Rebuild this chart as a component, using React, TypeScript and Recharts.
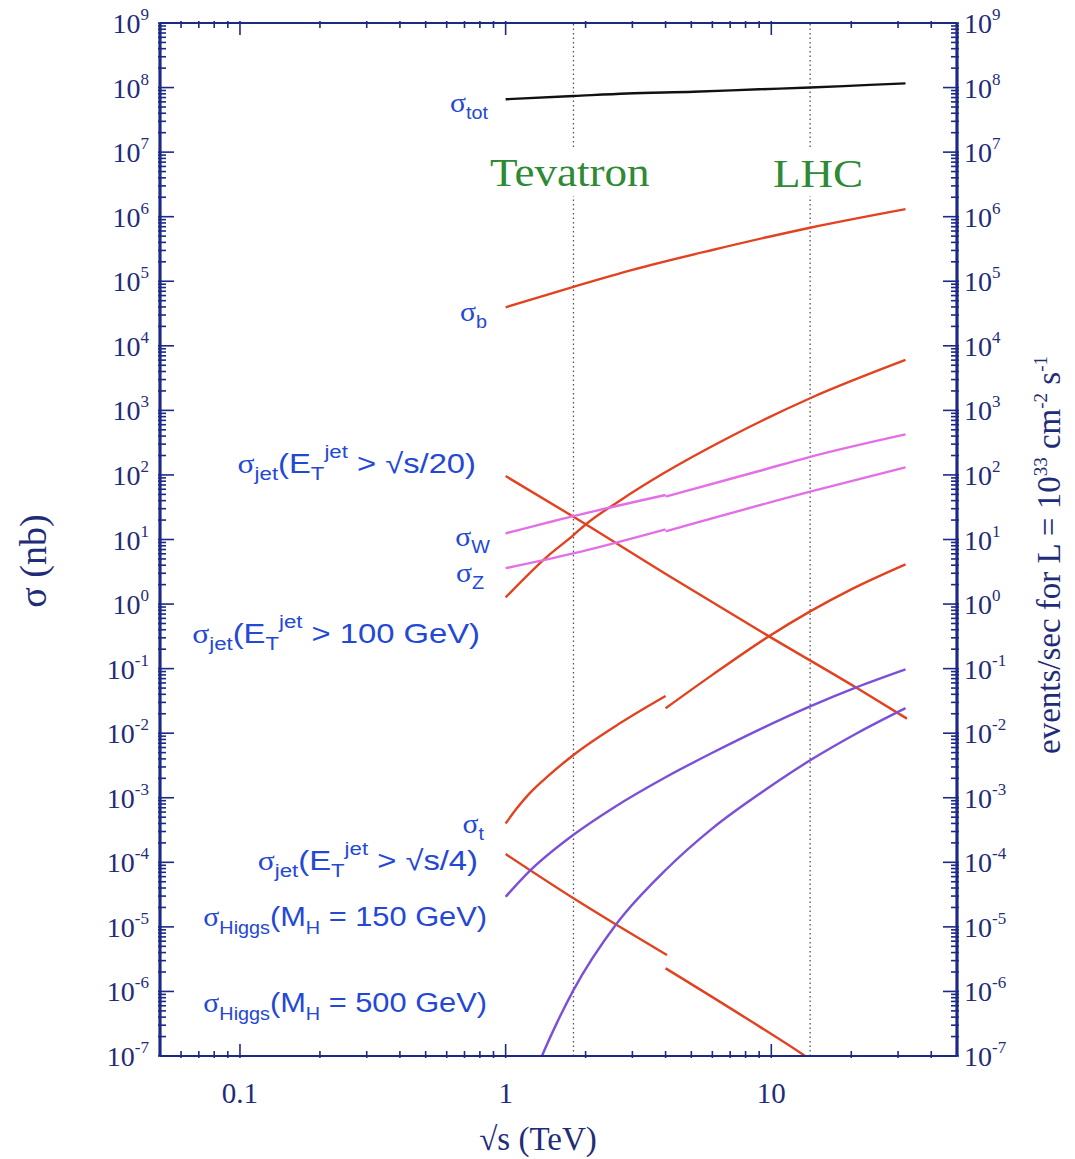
import { LineChart, Line, XAxis, YAxis, ReferenceLine } from 'recharts'

// sqrt(s) in TeV, sigma in nb
const sigmaTot = [
  { s: 1, v: 6.6e7 }, { s: 1.8, v: 7.4e7 }, { s: 2.86, v: 8.1e7 }, { s: 5.1, v: 8.6e7 },
  { s: 9, v: 9.4e7 }, { s: 14, v: 1.0e8 }, { s: 23.5, v: 1.1e8 }, { s: 32, v: 1.16e8 },
]
const sigmaB = [
  { s: 1, v: 3.95e4 }, { s: 1.8, v: 8.2e4 }, { s: 3, v: 1.5e5 }, { s: 6, v: 3.05e5 },
  { s: 14, v: 6.75e5 }, { s: 32, v: 1.31e6 },
]
const jet100 = [
  { s: 1, v: 1.27 }, { s: 1.43, v: 5.4 }, { s: 1.8, v: 11.7 }, { s: 1.99, v: 16.8 },
  { s: 2.69, v: 40 }, { s: 3.93, v: 106 }, { s: 7, v: 391 }, { s: 14, v: 1540 }, { s: 32, v: 6030 },
]
const jet20 = [
  { s: 1, v: 96 }, { s: 1.8, v: 22.5 }, { s: 4.05, v: 2.85 }, { s: 9.63, v: 0.33 },
  { s: 21, v: 0.05 }, { s: 32.4, v: 0.0168 },
]
const sigmaWppbar = [{ s: 1, v: 12.4 }, { s: 1.8, v: 23 }, { s: 4, v: 49 }]
const sigmaWpp = [{ s: 4, v: 46 }, { s: 9, v: 115 }, { s: 14, v: 191 }, { s: 32, v: 426 }]
const sigmaZppbar = [{ s: 1, v: 3.6 }, { s: 1.8, v: 6.1 }, { s: 4, v: 14.4 }]
const sigmaZpp = [{ s: 4, v: 13.4 }, { s: 14, v: 55 }, { s: 32, v: 131 }]
const sigmaTppbar = [
  { s: 1, v: 4.0e-4 }, { s: 1.1, v: 6.8e-4 }, { s: 1.23, v: 1.17e-3 }, { s: 1.45, v: 2.2e-3 },
  { s: 1.8, v: 4.6e-3 }, { s: 2.69, v: 0.0142 }, { s: 4, v: 0.0377 },
]
const sigmaTpp = [
  { s: 4, v: 0.0243 }, { s: 6, v: 0.08 }, { s: 9.6, v: 0.3 }, { s: 14, v: 0.77 }, { s: 20, v: 1.69 }, { s: 32, v: 4.12 },
]
const jet4ppbar = [{ s: 1, v: 1.34e-4 }, { s: 1.8, v: 2.77e-5 }, { s: 2.62, v: 1.07e-5 }, { s: 4.05, v: 3.66e-6 }]
const jet4pp = [{ s: 4, v: 2.28e-6 }, { s: 8, v: 3.9e-7 }, { s: 13.4, v: 1.0e-7 }, { s: 16, v: 6e-8 }]
const higgs150 = [
  { s: 1, v: 2.93e-5 }, { s: 1.23, v: 7.3e-5 }, { s: 1.8, v: 2.67e-4 }, { s: 2.53, v: 6.9e-4 }, { s: 4, v: 2.08e-3 },
  { s: 6, v: 4.97e-3 }, { s: 14, v: 0.026 }, { s: 21, v: 0.0516 }, { s: 32, v: 0.0973 },
]
const higgs500 = [
  { s: 1.3, v: 5.9e-8 }, { s: 1.37, v: 1e-7 }, { s: 1.556, v: 3.2e-7 }, { s: 1.8, v: 1.05e-6 }, { s: 2.62, v: 1.13e-5 },
  { s: 4, v: 7.6e-5 }, { s: 6, v: 3.36e-4 }, { s: 9.87, v: 1.48e-3 }, { s: 14, v: 3.8e-3 }, { s: 21, v: 1.0e-2 },
  { s: 32, v: 0.0245 },
]

const X_MAJOR = [0.1, 1, 10]
const X_MINOR = [0.06, 0.07, 0.08, 0.09, 0.2, 0.3, 0.4, 0.5, 0.6, 0.7, 0.8, 0.9, 2, 3, 4, 5, 6, 7, 8, 9, 20, 30, 40]
const Y_EXPS = [-7, -6, -5, -4, -3, -2, -1, 0, 1, 2, 3, 4, 5, 6, 7, 8, 9]
const Y_MULTS = [2, 3, 4, 5, 6, 7, 8, 9]
const TEVATRON = 1.8
const LHC = 14

const xTicks = [...X_MAJOR, ...X_MINOR].sort((a, b) => a - b)
const yTicks: number[] = []
Y_EXPS.forEach(e => {
  yTicks.push(Math.pow(10, e))
  if (e < 9) Y_MULTS.forEach(m => yTicks.push(m * Math.pow(10, e)))
})

const NAVY = '#1b2a86'
const TXT = '#1f2c78'
const BLUE = '#2448d6'
const RED = '#e2421f'
const MAGENTA = '#e46ee6'
const PURPLE = '#7b50d8'
const GREEN = '#2e8a34'
const SERIF = '"Liberation Serif", "Times New Roman", serif'
const SANS = '"Liberation Sans", Arial, sans-serif'

const isDecade = (v: number) => Math.abs(Math.log10(v) - Math.round(Math.log10(v))) < 1e-6

function BottomTick({ x, y, payload }: any) {
  const v = payload.value
  const major = isDecade(v)
  return (
    <g>
      <line x1={x} x2={x} y1={y} y2={y - (major ? 14 : 7)} stroke={NAVY} strokeWidth={1.6} />
      {major && (
        <text x={x} y={y + 45} textAnchor="middle" fill={TXT} fontFamily={SERIF} fontSize={29}>
          {String(v)}
        </text>
      )}
    </g>
  )
}

function TopTick({ x, y, payload }: any) {
  const major = isDecade(payload.value)
  return <line x1={x} x2={x} y1={y} y2={y + (major ? 14 : 7)} stroke={NAVY} strokeWidth={1.6} />
}

function YTick({ x, y, payload, side }: any) {
  const v = payload.value
  const major = isDecade(v)
  const dir = side === 'left' ? 1 : -1
  const exp = Math.round(Math.log10(v))
  return (
    <g>
      <line x1={x} x2={x + dir * (major ? 16 : 8)} y1={y} y2={y} stroke={NAVY} strokeWidth={1.6} />
      {major && (
        <text x={side === 'left' ? x - 9 : x + 5} y={y + 10} textAnchor={side === 'left' ? 'end' : 'start'}
          fill={TXT} fontFamily={SERIF} fontSize={28}>
          <tspan>10</tspan>
          <tspan dy={-13} fontSize={17}>{exp}</tspan>
        </text>
      )}
    </g>
  )
}

function CurveLabel({ x, y, sx = 1.1, children }: { x: number; y: number; sx?: number; children: React.ReactNode }) {
  return (
    <g transform={`translate(${x},${y}) scale(${sx},1)`}>
      <text x={0} y={0} textAnchor="end" fill={BLUE} fontFamily={SANS} fontSize={28}>{children}</text>
    </g>
  )
}

const Sig = () => <tspan fontFamily={SERIF} fontSize={27}>σ</tspan>

function JetLabel({ x, y, rest }: { x: number; y: number; rest: string }) {
  return (
    <CurveLabel x={x} y={y} sx={1.17}>
      <Sig />
      <tspan dy={7} fontSize={19}>jet</tspan>
      <tspan dy={-7}>(E</tspan>
      <tspan dy={7} fontSize={19}>T</tspan>
      <tspan dy={-22} fontSize={19}>jet</tspan>
      <tspan dy={15}>{rest}</tspan>
    </CurveLabel>
  )
}

function HiggsLabel({ x, y, rest }: { x: number; y: number; rest: string }) {
  return (
    <CurveLabel x={x} y={y}>
      <Sig />
      <tspan dy={8} fontSize={18}>Higgs</tspan>
      <tspan dy={-8}>(M</tspan>
      <tspan dy={8} fontSize={18}>H</tspan>
      <tspan dy={-8}>{rest}</tspan>
    </CurveLabel>
  )
}

function SimpleLabel({ x, y, sub }: { x: number; y: number; sub: string }) {
  return (
    <CurveLabel x={x} y={y}>
      <Sig />
      <tspan dy={7} fontSize={18}>{sub}</tspan>
    </CurveLabel>
  )
}

const series: { data: { s: number; v: number }[]; color: string }[] = [
  { data: sigmaTot, color: '#111111' },
  { data: sigmaB, color: RED },
  { data: jet100, color: RED },
  { data: jet20, color: RED },
  { data: sigmaWppbar, color: MAGENTA },
  { data: sigmaWpp, color: MAGENTA },
  { data: sigmaZppbar, color: MAGENTA },
  { data: sigmaZpp, color: MAGENTA },
  { data: sigmaTppbar, color: RED },
  { data: sigmaTpp, color: RED },
  { data: jet4ppbar, color: RED },
  { data: jet4pp, color: RED },
  { data: higgs150, color: PURPLE },
  { data: higgs500, color: PURPLE },
]

export default function App() {
  return (
    <div style={{ position: 'absolute', left: 0, top: 0, width: 1075, height: 1159, background: '#fff' }}>
      <LineChart width={1075} height={1159} margin={{ top: 22, right: 58, left: 100, bottom: 63 }}>
        <XAxis xAxisId="bottom" dataKey="s" type="number" scale="log" domain={[0.05, 50]} allowDataOverflow
          ticks={xTicks} interval={0} tickSize={0} tickLine={false} height={40}
          axisLine={{ stroke: NAVY, strokeWidth: 2.2 }} tick={<BottomTick />} />
        <XAxis xAxisId="top" orientation="top" dataKey="s" type="number" scale="log" domain={[0.05, 50]} allowDataOverflow
          ticks={xTicks} interval={0} tickSize={0} tickLine={false} height={1}
          axisLine={{ stroke: NAVY, strokeWidth: 2.2 }} tick={<TopTick />} />
        <YAxis yAxisId="left" type="number" scale="log" domain={[1e-7, 1e9]} allowDataOverflow
          ticks={yTicks} interval={0} tickSize={0} tickLine={false} width={60}
          axisLine={{ stroke: NAVY, strokeWidth: 3.2 }} tick={<YTick side="left" />} />
        <YAxis yAxisId="right" orientation="right" type="number" scale="log" domain={[1e-7, 1e9]} allowDataOverflow
          ticks={yTicks} interval={0} tickSize={0} tickLine={false} width={60}
          axisLine={{ stroke: NAVY, strokeWidth: 3.2 }} tick={<YTick side="right" />} />
        <ReferenceLine xAxisId="bottom" yAxisId="left" x={TEVATRON} stroke="#555" strokeWidth={1.3} strokeDasharray="1.5 3" />
        <ReferenceLine xAxisId="bottom" yAxisId="left" x={LHC} stroke="#555" strokeWidth={1.3} strokeDasharray="1.5 3" />
        {series.map((sr, i) => (
          <Line key={i} xAxisId="bottom" yAxisId="left" data={sr.data} dataKey="v" type="monotone"
            stroke={sr.color} strokeWidth={2.4} dot={false} isAnimationActive={false} />
        ))}
      </LineChart>

      <svg width={1075} height={1159} style={{ position: 'absolute', left: 0, top: 0, pointerEvents: 'none' }}>
        <rect x={484} y={148} width={172} height={48} fill="#fff" />
        <text transform="translate(490,186) scale(1.1,1)" fill={GREEN} fontFamily={SERIF} fontSize={41}>Tevatron</text>
        <rect x={766} y={148} width={104} height={48} fill="#fff" />
        <text transform="translate(773,187) scale(1.1,1)" fill={GREEN} fontFamily={SERIF} fontSize={41}>LHC</text>

        <SimpleLabel x={488} y={112} sub="tot" />
        <SimpleLabel x={487} y={321} sub="b" />
        <JetLabel x={476} y={473} rest=" > √s/20)" />
        <SimpleLabel x={490} y={546} sub="W" />
        <SimpleLabel x={484} y={582} sub="Z" />
        <JetLabel x={480} y={643} rest=" > 100 GeV)" />
        <SimpleLabel x={484} y={833} sub="t" />
        <JetLabel x={478} y={870} rest=" > √s/4)" />
        <HiggsLabel x={487} y={926} rest=" = 150 GeV)" />
        <HiggsLabel x={487} y={1012} rest=" = 500 GeV)" />

        <text transform="translate(46,561) rotate(-90)" textAnchor="middle" fill={TXT} fontFamily={SERIF} fontSize={38}>σ  (nb)</text>
        <text x={538} y={1150} textAnchor="middle" fill={TXT} fontFamily={SERIF} fontSize={33}>√s   (TeV)</text>
        <text transform="translate(1060,555) rotate(-90)" textAnchor="middle" fill={TXT} fontFamily={SERIF} fontSize={33}>
          <tspan>events/sec  for  L = 10</tspan>
          <tspan dy={-13} fontSize={19}>33</tspan>
          <tspan dy={13}> cm</tspan>
          <tspan dy={-13} fontSize={19}>-2</tspan>
          <tspan dy={13}> s</tspan>
          <tspan dy={-13} fontSize={19}>-1</tspan>
        </text>
      </svg>
    </div>
  )
}
